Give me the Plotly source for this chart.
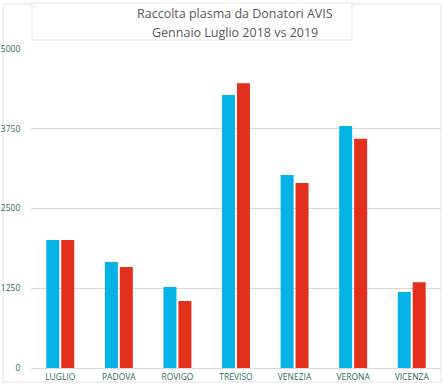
import plotly.graph_objects as go

categories = ["LUGLIO", "PADOVA", "ROVIGO", "TREVISO", "VENEZIA", "VERONA", "VICENZA"]
values_2018 = [2006, 1661, 1270, 4279, 3025, 3793, 1191]
values_2019 = [2006, 1583, 1050, 4462, 2900, 3594, 1343]
tick_values = [0, 1250, 2500, 3750, 5000]
title_lines = ["Raccolta plasma da Donatori AVIS", "Gennaio Luglio 2018 vs 2019"]

blue = "#05B2E6"
red = "#E2301C"
label_color = "#2C6E5C"
font_family = "Open Sans, Lato, sans-serif"

PX0, PX1, PY0, PY1 = 31, 441, 49, 368  # plot area in pixels


def px_x(x):
    return (x - PX0) / (PX1 - PX0)


def px_y(y):
    return (PY1 - y) / (PY1 - PY0)


fig = go.Figure()
fig.add_trace(go.Bar(x=categories, y=values_2018, name="2018", marker=dict(color=blue, line=dict(width=0))))
fig.add_trace(go.Bar(x=categories, y=values_2019, name="2019", marker=dict(color=red, line=dict(width=0))))

fig.update_layout(
    width=445, height=385,
    margin=dict(l=PX0, r=445 - PX1, t=PY0, b=385 - PY1),
    paper_bgcolor="white", plot_bgcolor="white",
    barmode="group", bargap=0.49, bargroupgap=0.13,
    showlegend=False,
    font=dict(family=font_family, color=label_color, size=9),
    xaxis=dict(showgrid=False, showline=False, ticks="outside", ticklen=1, automargin=False,
               tickcolor="rgba(0,0,0,0)", tickfont=dict(size=8.5, color=label_color)),
    yaxis=dict(range=[0, 5000], tickvals=tick_values, ticktext=[str(v) for v in tick_values],
               showgrid=True, gridcolor="#D9D9D9", gridwidth=1, zeroline=True, automargin=False,
               zerolinecolor="#D9D9D9", zerolinewidth=1, showline=False,
               ticks="outside", ticklen=8, tickcolor="rgba(0,0,0,0)",
               tickfont=dict(size=8.5, color=label_color)),
    shapes=[
        dict(type="rect", xref="paper", yref="paper", layer="below",
             x0=px_x(3), x1=px_x(441), y0=px_y(382), y1=px_y(4),
             line=dict(color="#E3E3E3", width=1)),
        dict(type="rect", xref="paper", yref="paper", layer="below",
             x0=px_x(32), x1=px_x(352), y0=px_y(40), y1=px_y(3),
             fillcolor="white", line=dict(color="#E6E6E6", width=1)),
    ],
)
for i, line in enumerate(title_lines):
    fig.add_annotation(text=line, xref="paper", yref="paper", x=px_x(235),
                       y=px_y(14 + i * 19), showarrow=False,
                       font=dict(size=12.5, color="#595959", family=font_family),
                       xanchor="center", yanchor="middle")

fig.write_html("out.html", config={"displayModeBar": False},
               post_script="document.body.style.margin='0';document.body.style.overflow='hidden';")
